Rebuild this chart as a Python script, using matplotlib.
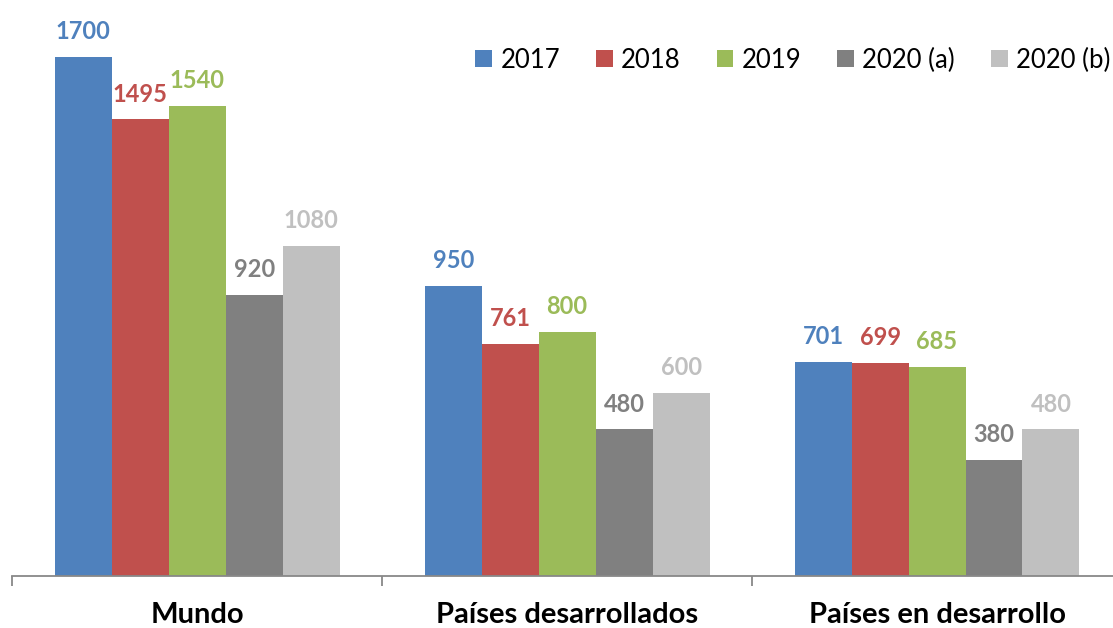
import matplotlib
matplotlib.use("Agg")
import matplotlib.pyplot as plt
from matplotlib.patches import Patch
import numpy as np

categories = ["Mundo", "Países desarrollados", "Países en desarrollo"]
series = ["2017", "2018", "2019", "2020 (a)", "2020 (b)"]
values = {
    "2017": [1700, 950, 701],
    "2018": [1495, 761, 699],
    "2019": [1540, 800, 685],
    "2020 (a)": [920, 480, 380],
    "2020 (b)": [1080, 600, 480],
}
colors = ["#4F81BD", "#C0504D", "#9BBB59", "#808080", "#C0C0C0"]

plt.rcParams['font.family'] = ['Lato', 'DejaVu Sans']

W, H = 1113, 628
fig = plt.figure(figsize=(W / 100, H / 100), dpi=100)
left_px, right_px = 12.3, 1122.0
bottom_px = 576.0
ax = fig.add_axes([left_px / W, (H - bottom_px) / H, (right_px - left_px) / W, bottom_px / H])

x = np.arange(len(categories))
bw = 0.154
for i, (s, c) in enumerate(zip(series, colors)):
    pos = x + (i - 2) * bw
    bars = ax.bar(pos, values[s], width=bw, color=c, edgecolor='none', zorder=2)
    for b, v in zip(bars, values[s]):
        ax.annotate(str(v), (b.get_x() + b.get_width() / 2, v), xytext=(0, 10),
                    textcoords='offset points', ha='center', va='bottom',
                    fontsize=17, fontweight='bold', color=c)

ax.set_xlim(-0.5, 2.5)
ax.set_ylim(0, 1886)
ax.set_yticks([])
for sp in ['top', 'right', 'left']:
    ax.spines[sp].set_visible(False)
ax.spines['bottom'].set_color('#888888')
ax.spines['bottom'].set_linewidth(1.3)
ax.set_xticks([-0.5, 0.5, 1.5, 2.5])
ax.set_xticklabels([])
ax.tick_params(axis='x', which='major', length=7, width=1.3, color='#888888', direction='out')
for xi, cat in zip(x, categories):
    ax.annotate(cat, (xi, 0), xytext=(0, -19), textcoords='offset points',
                ha='center', va='top', fontsize=21, fontweight='bold', color='black',
                annotation_clip=False)

handles = [Patch(facecolor=c, edgecolor='none', label=s) for s, c in zip(series, colors)]
leg = fig.legend(handles=handles, loc='center right', bbox_to_anchor=(1110 / W, 1 - 60 / H),
                 ncol=5, frameon=False, fontsize=18.5, handlelength=0.66, handleheight=0.66,
                 handletextpad=0.31, columnspacing=1.4, borderaxespad=0, borderpad=0)

fig.savefig("out.png", dpi=100)
